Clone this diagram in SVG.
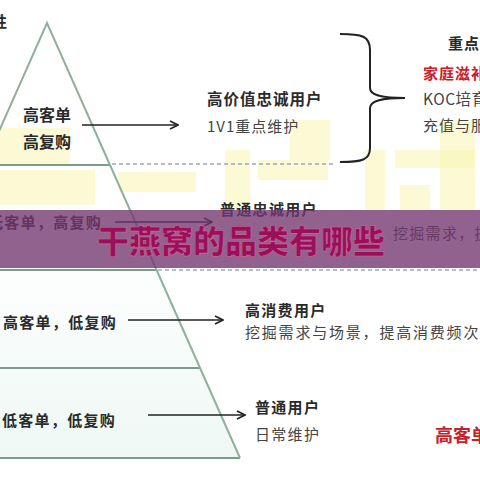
<svg xmlns="http://www.w3.org/2000/svg" width="480" height="480" viewBox="0 0 480 480">
<defs>
<style>
.t{font-family:"Noto Sans CJK SC","Noto Sans",sans-serif;fill:#2a2a2a}
.b{font-weight:bold}
.s15{font-size:15px;letter-spacing:1.3px}
.s16{font-size:16px}
.r{fill:#c8202a}
.g{fill:#444}
.edge{stroke:#8fb09c;stroke-width:2;fill:none}
.tier{stroke:#7d9a8c;stroke-width:2}
.dash{stroke:#9aa6c2;stroke-width:1.5;stroke-dasharray:4 3}
.arr{stroke:#222;stroke-width:1.6;fill:none;marker-end:url(#ah)}
.wm{fill:#f8f7b8;opacity:0.6}
</style>
<marker id="ah" viewBox="0 0 10 10" refX="9" refY="5" markerWidth="10" markerHeight="10" markerUnits="userSpaceOnUse" orient="auto">
<path d="M1,1 L9,5 L1,9" fill="none" stroke="#222" stroke-width="1.6"/>
</marker>
<linearGradient id="pf" x1="0" y1="0" x2="0" y2="1">
<stop offset="0" stop-color="#ffffff"/>
<stop offset="0.5" stop-color="#ffffff"/>
<stop offset="1" stop-color="#eef8f5"/>
</linearGradient>
</defs>
<rect width="480" height="480" fill="#ffffff"/>

<g id="pyramid">
<polygon points="47,23 240,458 -146,458" fill="url(#pf)"/>
</g>

<g id="watermark">
<rect class="wm" x="0" y="128" width="70" height="36"/>
<rect class="wm" x="0" y="170" width="95" height="35"/>
<rect class="wm" x="118" y="172" width="78" height="20"/>
<rect class="wm" x="225" y="150" width="25" height="60"/>
<rect class="wm" x="258" y="160" width="70" height="20"/>
<rect class="wm" x="290" y="120" width="40" height="40"/>
<rect class="wm" x="365" y="150" width="20" height="60"/>
<rect class="wm" x="395" y="150" width="80" height="18"/>
<rect class="wm" x="440" y="120" width="35" height="90"/>
<rect class="wm" x="400" y="185" width="30" height="25"/>
</g>

<g id="pyramid-lines">
<line class="tier" x1="0" y1="165" x2="110" y2="165"/>
<line class="tier" x1="0" y1="270" x2="157" y2="270"/>
<line class="tier" x1="0" y1="368" x2="200" y2="368"/>
<line class="tier" x1="0" y1="458" x2="240" y2="458"/>
<polyline class="edge" points="-146,458 47,23 240,458"/>
</g>

<g id="connectors">
<line class="dash" x1="112" y1="164" x2="335" y2="164"/>
<line class="dash" x1="158" y1="270" x2="480" y2="270"/>
<line class="arr" x1="82" y1="125" x2="178" y2="125"/>
<line class="arr" x1="115" y1="222" x2="212" y2="222"/>
<line class="arr" x1="128" y1="320" x2="223" y2="320"/>
<line class="arr" x1="148" y1="415" x2="245" y2="415"/>
<path d="M340,34 C362,34 370,36 370,50 L370,88 C370,95 380,98 405,98 C380,98 370,101 370,108 L370,148 C370,160 362,162 340,162" fill="none" stroke="#222" stroke-width="2"/>
</g>

<g id="top-label">
<text class="t b" x="-8" y="27" font-size="15">性</text>
</g>

<g id="tier1">
<text class="t b s16" x="47" y="121" text-anchor="middle">高客单</text>
<text class="t b s16" x="47" y="148" text-anchor="middle">高复购</text>
<text class="t b" x="207" y="105" font-size="15.5" letter-spacing="1">高价值忠诚用户</text>
<text class="t g" x="207" y="132" font-size="15" letter-spacing="1">1V1重点维护</text>
</g>

<g id="tier1-detail">
<text class="t b" x="448" y="49" font-size="15" letter-spacing="1">重点维护</text>
<text class="t b r" x="423" y="79" font-size="15" letter-spacing="1">家庭滋补</text>
<text class="t g" x="423" y="105" font-size="15.5" letter-spacing="0.5">KOC培育</text>
<text class="t g" x="423" y="131" font-size="15" letter-spacing="1">充值与服务</text>
</g>

<g id="tier2">
<text class="t b s15" x="-12" y="228">低客单，高复购</text>
<text class="t b s15" x="220" y="215">普通忠诚用户</text>
<text class="t g s15" x="393" y="239">挖掘需求，提</text>
</g>

<g id="tier3">
<text class="t b s15" x="3" y="328">高客单，低复购</text>
<text class="t b s15" x="245" y="316">高消费用户</text>
<text class="t g" x="245" y="338" font-size="15" letter-spacing="1.8">挖掘需求与场景，提高消费频次</text>
</g>

<g id="tier4">
<text class="t b s15" x="2" y="426">低客单，低复购</text>
<text class="t b s15" x="255" y="413">普通用户</text>
<text class="t g s15" x="255" y="440">日常维护</text>
<text class="t b r" x="435" y="442" font-size="18">高客单</text>
</g>

<g id="banner">
<rect x="0" y="210" width="480" height="58" fill="#73366f" opacity="0.78"/>
<text x="97" y="253" font-family="Noto Sans CJK SC,Noto Sans,sans-serif" font-weight="900" font-size="32" fill="#9c0f58" stroke="#c26a9c" stroke-width="0.6">干燕窝的品类有哪些</text>
</g>
</svg>
